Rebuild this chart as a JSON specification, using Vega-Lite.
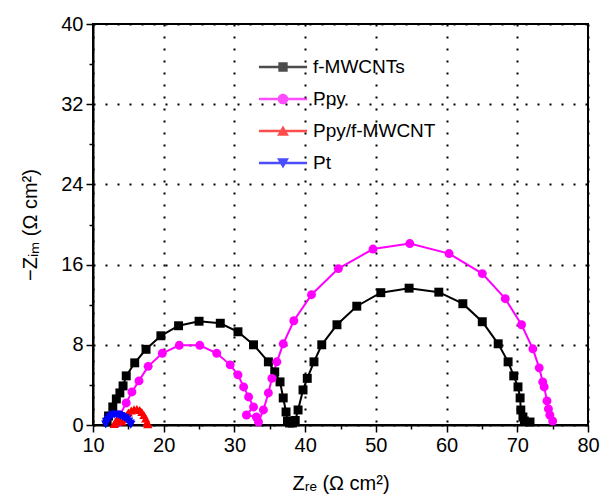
{
  "$schema": "https://vega.github.io/schema/vega-lite/v6.json",
  "width": 495,
  "height": 401,
  "autosize": {"type": "none"},
  "padding": {"left": 93, "top": 24, "right": 15, "bottom": 72},
  "background": "white",
  "config": {
    "font": "Liberation Sans",
    "view": {"stroke": "black", "strokeWidth": 2},
    "axis": {
      "domainColor": "black", "domainWidth": 2,
      "tickColor": "black", "tickWidth": 1.5,
      "labelFont": "Liberation Sans", "labelFontSize": 20, "labelColor": "black",
      "titleFont": "Liberation Sans", "titleFontSize": 20, "titleFontWeight": "normal", "titleColor": "black",
      "gridColor": "black", "gridDash": [2, 10], "gridWidth": 2,
      "labelOverlap": false, "labelFlush": false
    }
  },
  "data": {
    "values": [
      {"s": "f-MWCNTs", "i": 1, "x": 12.0, "y": 0.3},
      {"s": "f-MWCNTs", "i": 2, "x": 12.2, "y": 0.9},
      {"s": "f-MWCNTs", "i": 3, "x": 12.8, "y": 1.8},
      {"s": "f-MWCNTs", "i": 4, "x": 13.3, "y": 2.6},
      {"s": "f-MWCNTs", "i": 5, "x": 13.8, "y": 3.2},
      {"s": "f-MWCNTs", "i": 6, "x": 14.25, "y": 3.9},
      {"s": "f-MWCNTs", "i": 7, "x": 14.7, "y": 4.9},
      {"s": "f-MWCNTs", "i": 8, "x": 15.9, "y": 6.2},
      {"s": "f-MWCNTs", "i": 9, "x": 17.5, "y": 7.55},
      {"s": "f-MWCNTs", "i": 10, "x": 19.6, "y": 8.9},
      {"s": "f-MWCNTs", "i": 11, "x": 22.1, "y": 9.9},
      {"s": "f-MWCNTs", "i": 12, "x": 25.0, "y": 10.35},
      {"s": "f-MWCNTs", "i": 13, "x": 28.0, "y": 10.15},
      {"s": "f-MWCNTs", "i": 14, "x": 30.5, "y": 9.3},
      {"s": "f-MWCNTs", "i": 15, "x": 32.7, "y": 8.0},
      {"s": "f-MWCNTs", "i": 16, "x": 34.8, "y": 6.3},
      {"s": "f-MWCNTs", "i": 17, "x": 35.7, "y": 5.3},
      {"s": "f-MWCNTs", "i": 18, "x": 36.45, "y": 4.3},
      {"s": "f-MWCNTs", "i": 19, "x": 36.9, "y": 2.7},
      {"s": "f-MWCNTs", "i": 20, "x": 37.3, "y": 1.3},
      {"s": "f-MWCNTs", "i": 21, "x": 37.5, "y": 0.4},
      {"s": "f-MWCNTs", "i": 22, "x": 37.8, "y": 0.2},
      {"s": "f-MWCNTs", "i": 23, "x": 38.2, "y": 0.2},
      {"s": "f-MWCNTs", "i": 24, "x": 38.6, "y": 0.45},
      {"s": "f-MWCNTs", "i": 25, "x": 39.0, "y": 1.5},
      {"s": "f-MWCNTs", "i": 26, "x": 39.7, "y": 3.5},
      {"s": "f-MWCNTs", "i": 27, "x": 40.3, "y": 4.65},
      {"s": "f-MWCNTs", "i": 28, "x": 41.25, "y": 6.3},
      {"s": "f-MWCNTs", "i": 29, "x": 42.35, "y": 8.0},
      {"s": "f-MWCNTs", "i": 30, "x": 44.5, "y": 10.0},
      {"s": "f-MWCNTs", "i": 31, "x": 47.3, "y": 11.85},
      {"s": "f-MWCNTs", "i": 32, "x": 50.7, "y": 13.2},
      {"s": "f-MWCNTs", "i": 33, "x": 54.7, "y": 13.65},
      {"s": "f-MWCNTs", "i": 34, "x": 58.9, "y": 13.25},
      {"s": "f-MWCNTs", "i": 35, "x": 62.3, "y": 12.1},
      {"s": "f-MWCNTs", "i": 36, "x": 65.05, "y": 10.3},
      {"s": "f-MWCNTs", "i": 37, "x": 67.3, "y": 8.1},
      {"s": "f-MWCNTs", "i": 38, "x": 68.7, "y": 6.3},
      {"s": "f-MWCNTs", "i": 39, "x": 69.5, "y": 4.9},
      {"s": "f-MWCNTs", "i": 40, "x": 70.1, "y": 3.8},
      {"s": "f-MWCNTs", "i": 41, "x": 70.4, "y": 2.7},
      {"s": "f-MWCNTs", "i": 42, "x": 70.5, "y": 1.5},
      {"s": "f-MWCNTs", "i": 43, "x": 70.8, "y": 0.8},
      {"s": "f-MWCNTs", "i": 44, "x": 71.0, "y": 0.4},
      {"s": "f-MWCNTs", "i": 45, "x": 71.8, "y": 0.3},
      {"s": "Ppy", "i": 1, "x": 13.6, "y": 0.3},
      {"s": "Ppy", "i": 2, "x": 13.8, "y": 1.0},
      {"s": "Ppy", "i": 3, "x": 14.7, "y": 2.2},
      {"s": "Ppy", "i": 4, "x": 15.5, "y": 3.3},
      {"s": "Ppy", "i": 5, "x": 16.5, "y": 4.4},
      {"s": "Ppy", "i": 6, "x": 17.8, "y": 5.85},
      {"s": "Ppy", "i": 7, "x": 19.8, "y": 7.15},
      {"s": "Ppy", "i": 8, "x": 22.2, "y": 7.95},
      {"s": "Ppy", "i": 9, "x": 25.1, "y": 7.95},
      {"s": "Ppy", "i": 10, "x": 27.5, "y": 7.15},
      {"s": "Ppy", "i": 11, "x": 29.4, "y": 6.0},
      {"s": "Ppy", "i": 12, "x": 30.5, "y": 5.0},
      {"s": "Ppy", "i": 13, "x": 31.3, "y": 3.8},
      {"s": "Ppy", "i": 14, "x": 32.0, "y": 2.8},
      {"s": "Ppy", "i": 15, "x": 32.7, "y": 1.8},
      {"s": "Ppy", "i": 16, "x": 31.7, "y": 1.0},
      {"s": "Ppy", "i": 17, "x": 33.1, "y": 0.8},
      {"s": "Ppy", "i": 18, "x": 33.4, "y": 0.3},
      {"s": "Ppy", "i": 19, "x": 34.1, "y": 1.5},
      {"s": "Ppy", "i": 20, "x": 34.8, "y": 3.2},
      {"s": "Ppy", "i": 21, "x": 35.3, "y": 4.65},
      {"s": "Ppy", "i": 22, "x": 36.0, "y": 6.3},
      {"s": "Ppy", "i": 23, "x": 36.9, "y": 8.1},
      {"s": "Ppy", "i": 24, "x": 38.4, "y": 10.4},
      {"s": "Ppy", "i": 25, "x": 40.9, "y": 13.0},
      {"s": "Ppy", "i": 26, "x": 44.7, "y": 15.6},
      {"s": "Ppy", "i": 27, "x": 49.6, "y": 17.55},
      {"s": "Ppy", "i": 28, "x": 54.8, "y": 18.1},
      {"s": "Ppy", "i": 29, "x": 60.35, "y": 17.1},
      {"s": "Ppy", "i": 30, "x": 65.05, "y": 15.1},
      {"s": "Ppy", "i": 31, "x": 68.3, "y": 12.6},
      {"s": "Ppy", "i": 32, "x": 70.6, "y": 10.0},
      {"s": "Ppy", "i": 33, "x": 72.2, "y": 7.6},
      {"s": "Ppy", "i": 34, "x": 73.1, "y": 5.7},
      {"s": "Ppy", "i": 35, "x": 73.6, "y": 4.3},
      {"s": "Ppy", "i": 36, "x": 73.8, "y": 3.8},
      {"s": "Ppy", "i": 37, "x": 74.2, "y": 2.4},
      {"s": "Ppy", "i": 38, "x": 74.4, "y": 1.6},
      {"s": "Ppy", "i": 39, "x": 74.6, "y": 1.0},
      {"s": "Ppy", "i": 40, "x": 75.0, "y": 0.4},
      {"s": "Ppy/f-MWCNT", "i": 1, "x": 13.0, "y": 0.1},
      {"s": "Ppy/f-MWCNT", "i": 2, "x": 13.2, "y": 0.35},
      {"s": "Ppy/f-MWCNT", "i": 3, "x": 13.5, "y": 0.5},
      {"s": "Ppy/f-MWCNT", "i": 4, "x": 13.8, "y": 0.45},
      {"s": "Ppy/f-MWCNT", "i": 5, "x": 14.1, "y": 0.35},
      {"s": "Ppy/f-MWCNT", "i": 6, "x": 14.4, "y": 0.6},
      {"s": "Ppy/f-MWCNT", "i": 7, "x": 14.7, "y": 0.95},
      {"s": "Ppy/f-MWCNT", "i": 8, "x": 15.0, "y": 1.25},
      {"s": "Ppy/f-MWCNT", "i": 9, "x": 15.4, "y": 1.45},
      {"s": "Ppy/f-MWCNT", "i": 10, "x": 15.8, "y": 1.58},
      {"s": "Ppy/f-MWCNT", "i": 11, "x": 16.2, "y": 1.6},
      {"s": "Ppy/f-MWCNT", "i": 12, "x": 16.6, "y": 1.5},
      {"s": "Ppy/f-MWCNT", "i": 13, "x": 16.9, "y": 1.3},
      {"s": "Ppy/f-MWCNT", "i": 14, "x": 17.2, "y": 1.0},
      {"s": "Ppy/f-MWCNT", "i": 15, "x": 17.45, "y": 0.65},
      {"s": "Ppy/f-MWCNT", "i": 16, "x": 17.65, "y": 0.3},
      {"s": "Ppy/f-MWCNT", "i": 17, "x": 17.75, "y": 0.08},
      {"s": "Pt", "i": 1, "x": 11.8, "y": 0.05},
      {"s": "Pt", "i": 2, "x": 11.95, "y": 0.3},
      {"s": "Pt", "i": 3, "x": 12.15, "y": 0.55},
      {"s": "Pt", "i": 4, "x": 12.4, "y": 0.78},
      {"s": "Pt", "i": 5, "x": 12.7, "y": 0.95},
      {"s": "Pt", "i": 6, "x": 13.0, "y": 1.02},
      {"s": "Pt", "i": 7, "x": 13.3, "y": 1.05},
      {"s": "Pt", "i": 8, "x": 13.6, "y": 1.0},
      {"s": "Pt", "i": 9, "x": 13.9, "y": 0.9},
      {"s": "Pt", "i": 10, "x": 14.2, "y": 0.8},
      {"s": "Pt", "i": 11, "x": 14.5, "y": 0.7},
      {"s": "Pt", "i": 12, "x": 14.8, "y": 0.55},
      {"s": "Pt", "i": 13, "x": 15.05, "y": 0.35},
      {"s": "Pt", "i": 14, "x": 15.25, "y": 0.15},
      {"s": "Pt", "i": 15, "x": 15.35, "y": 0.03}
    ]
  },
  "encoding": {
    "x": {
      "field": "x", "type": "quantitative",
      "scale": {"domain": [10, 80], "nice": false, "zero": false},
      "axis": {
        "title": "Zᵣₑ (Ω cm²)",
        "values": [10, 15, 20, 25, 30, 35, 40, 45, 50, 55, 60, 65, 70, 75, 80],
        "labelExpr": "datum.value % 10 === 0 ? datum.label : ''",
        "tickSize": {"condition": {"test": "datum.value % 10 === 0", "value": 7}, "value": 4},
        "gridOpacity": {"condition": {"test": "datum.value % 10 === 0", "value": 1}, "value": 0},
        "grid": true,
        "labelPadding": 3,
        "titlePadding": 18
      }
    },
    "y": {
      "field": "y", "type": "quantitative",
      "scale": {"domain": [0, 40], "nice": false},
      "axis": {
        "title": "−Zᵢₘ (Ω cm²)",
        "values": [0, 4, 8, 12, 16, 20, 24, 28, 32, 36, 40],
        "labelExpr": "datum.value % 8 === 0 ? datum.label : ''",
        "tickSize": {"condition": {"test": "datum.value % 8 === 0", "value": 7}, "value": 4},
        "gridOpacity": {"condition": {"test": "datum.value % 8 === 0", "value": 1}, "value": 0},
        "grid": true,
        "labelPadding": 3,
        "titlePadding": 20
      }
    },
    "color": {
      "field": "s", "type": "nominal",
      "scale": {"domain": ["f-MWCNTs", "Ppy", "Ppy/f-MWCNT", "Pt"], "range": ["#000000", "#ff00ff", "#ff0000", "#0000ff"]},
      "legend": {
        "orient": "none", "legendX": 177, "legendY": 30,
        "title": null, "padding": 0,
        "labelFont": "Liberation Sans", "labelFontSize": 19, "labelColor": "black",
        "symbolSize": 676, "symbolStrokeWidth": 0, "rowPadding": 9, "labelOffset": 17
      }
    }
  },
  "layer": [
    {
      "transform": [{"filter": "datum.y < -100"}],
      "mark": {"type": "point", "filled": true},
      "encoding": {
        "shape": {
          "field": "s", "type": "nominal",
          "scale": {
            "domain": ["f-MWCNTs", "Ppy", "Ppy/f-MWCNT", "Pt"],
            "range": [
              "M-1.85,-0.1H1.85V0.1H-1.85ZM-0.36,-0.36H0.36V0.36H-0.36Z",
              "M-1.85,-0.1H1.85V0.1H-1.85ZM-0.41,0A0.41,0.41 0 1,1 0.41,0A0.41,0.41 0 1,1 -0.41,0Z",
              "M-1.85,-0.1H1.85V0.1H-1.85ZM0,-0.42L0.46,0.36H-0.46Z",
              "M-1.85,-0.1H1.85V0.1H-1.85ZM0,0.42L-0.46,-0.36H0.46Z"
            ]
          }
        }
      }
    },
    {
      "mark": {"type": "line", "strokeWidth": 2},
      "encoding": {
        "order": {"field": "i", "type": "quantitative"}
      }
    },
    {
      "transform": [{"filter": "datum.s === 'f-MWCNTs'"}],
      "mark": {"type": "point", "filled": true, "size": 80, "opacity": 1, "shape": "square"}
    },
    {
      "transform": [{"filter": "datum.s === 'Ppy'"}],
      "mark": {"type": "point", "filled": true, "size": 80, "opacity": 1, "shape": "circle"}
    },
    {
      "transform": [{"filter": "datum.s === 'Ppy/f-MWCNT'"}],
      "mark": {"type": "point", "filled": true, "size": 85, "opacity": 1, "shape": "triangle-up"}
    },
    {
      "transform": [{"filter": "datum.s === 'Pt'"}],
      "mark": {"type": "point", "filled": true, "size": 85, "opacity": 1, "shape": "triangle-down"}
    }
  ]
}
